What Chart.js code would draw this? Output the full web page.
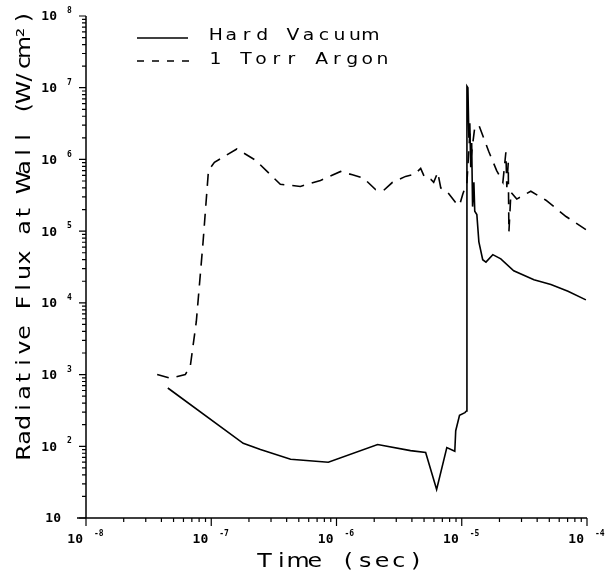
<!DOCTYPE html>
<html>
<head>
<meta charset="utf-8">
<script src="https://cdn.jsdelivr.net/npm/chart.js@4"></script>
<style>
    html, body { margin: 0; padding: 0; background: #fff; }
    #wrap { width: 605px; height: 576px; }
</style>
</head>
<body>
<div id="wrap"><canvas id="grafico" width="605" height="576"></canvas></div>
<script>
// Hard vacuum (solid line)
const vacuumTime = [4.5e-8, 1.8e-7, 2.47e-7, 4.3e-7, 8.6e-7, 2.13e-6, 3.9e-6, 5.15e-6, 6.3e-6, 7.6e-6, 8.8e-6, 8.95e-6, 9.6e-6, 1.06e-5, 1.09e-5,
    1.1e-5, 1.12e-5, 1.14e-5, 1.16e-5, 1.18e-5, 1.2e-5, 1.22e-5, 1.25e-5, 1.27e-5, 1.32e-5, 1.37e-5, 1.47e-5, 1.56e-5, 1.77e-5, 2.05e-5,
    2.6e-5, 3.77e-5, 5.15e-5, 7.05e-5, 9.8e-5];
const vacuumFlux = [650, 110, 90, 66, 60, 106, 87, 82, 25, 96, 85, 165, 270, 295, 310,
    1.05e7, 1.0e7, 2.0e6, 3.2e6, 7.8e5, 1.7e6, 2.2e5, 4.8e5, 1.9e5, 1.7e5, 7.1e4, 4.0e4, 3.7e4, 4.7e4, 4.1e4,
    2.8e4, 2.1e4, 1.8e4, 1.45e4, 1.1e4];

// 1 Torr argon (dashed line)
const argonTime = [3.7e-8, 4.7e-8, 6.2e-8, 6.8e-8, 7.6e-8, 8.6e-8, 9.5e-8, 1.06e-7, 1.6e-7, 2.25e-7, 3.56e-7, 5.15e-7, 7.45e-7, 1.08e-6,
    1.34e-6, 1.64e-6, 2.05e-6, 2.38e-6, 2.8e-6, 3.56e-6, 4.2e-6, 4.7e-6, 5.06e-6, 5.65e-6, 5.97e-6, 6.43e-6, 6.8e-6, 7.7e-6, 8.95e-6,
    9.6e-6, 1.02e-5, 1.1e-5, 1.16e-5, 1.2e-5, 1.27e-5, 1.37e-5, 1.64e-5, 1.9e-5, 2.13e-5, 2.25e-5, 2.29e-5, 2.35e-5, 2.38e-5, 2.47e-5,
    2.75e-5, 3.56e-5, 4.7e-5, 6.8e-5, 9.8e-5];
const argonFlux = [1.0e3, 890, 1.0e3, 1.3e3, 5.5e3, 7.0e4, 7.0e5, 9.1e5, 1.4e6, 9.8e5, 4.5e5, 4.2e5, 5.1e5, 6.8e5,
    6.1e5, 5.5e5, 3.8e5, 3.7e5, 4.8e5, 5.8e5, 6.2e5, 7.5e5, 5.6e5, 5.3e5, 4.8e5, 6.6e5, 4.0e5, 3.5e5, 2.5e5,
    2.3e5, 3.3e5, 4.8e5, 2.3e6, 1.25e6, 2.8e6, 3.0e6, 1.3e6, 7.0e5, 4.8e5, 1.26e6, 4.1e5, 9.0e5, 9.8e4, 3.5e5,
    2.8e5, 3.6e5, 2.7e5, 1.6e5, 1.05e5];

const xDecades = [-8, -7, -6, -5, -4];
const yDecades = [1, 2, 3, 4, 5, 6, 7, 8];
const legendLabels = ['Hard Vacuum', '1 Torr Argon'];
const xTitle = 'Time (sec)';
const yTitle = 'Radiative Flux at Wall (W/cm²)';

const INK = '#000';
const FUENTE_TICK = '"DejaVu Sans Mono", monospace';
const FUENTE_TXT = '"DejaVu Sans", sans-serif';

function toPoints(xs, ys) {
    return xs.map((x, i) => ({ x, y: ys[i] }));
}

// fixed pitch + slightly widened glyphs, like the plotter lettering
function textoEspaciado(ctx, texto, x0, ancho, y) {
    const paso = ancho / texto.length;
    ctx.textAlign = 'center';
    [...texto].forEach((ch, i) => {
        ctx.save();
        ctx.translate(x0 + (i + 0.5) * paso, y);
        ctx.scale(1.25, 1);
        ctx.fillText(ch, 0, 0);
        ctx.restore();
    });
}

const ejesPlugin = {
    id: 'ejesPlotter',
    afterDraw(chart) {
        const { ctx, chartArea: { left, right, top, bottom }, scales: { x, y } } = chart;
        ctx.save();
        ctx.strokeStyle = INK;
        ctx.fillStyle = INK;
        ctx.lineWidth = 1.5;

        // axis lines
        ctx.beginPath();
        ctx.moveTo(left, top);
        ctx.lineTo(left, bottom);
        ctx.moveTo(left - 9, bottom);
        ctx.lineTo(right, bottom);
        ctx.stroke();

        // ticks
        ctx.lineWidth = 1.2;
        ctx.beginPath();
        xDecades.forEach((e) => {
            for (let m = 1; m <= 9; m++) {
                const v = m * Math.pow(10, e);
                if (v > x.max * 1.0001) break;
                const px = x.getPixelForValue(v);
                const len = m === 1 ? 8 : 4;
                ctx.moveTo(px, bottom);
                ctx.lineTo(px, bottom + len);
            }
        });
        yDecades.forEach((e) => {
            for (let m = 1; m <= 9; m++) {
                const v = m * Math.pow(10, e);
                if (v > y.max * 1.0001) break;
                const py = y.getPixelForValue(v);
                const len = m === 1 ? 7 : 4;
                ctx.moveTo(left, py);
                ctx.lineTo(left - len, py);
            }
        });
        ctx.stroke();

        // tick labels
        ctx.textBaseline = 'middle';
        yDecades.forEach((e) => {
            const py = y.getPixelForValue(Math.pow(10, e));
            ctx.font = `bold 13px ${FUENTE_TICK}`;
            ctx.textAlign = 'right';
            if (e === 1) {
                ctx.fillText('10', 61, py + 1);
                return;
            }
            ctx.fillText('10', 57, py + 1);
            ctx.font = `bold 8px ${FUENTE_TICK}`;
            ctx.textAlign = 'left';
            ctx.fillText(String(e), 67, py - 5);
        });
        xDecades.forEach((e) => {
            const px = x.getPixelForValue(Math.pow(10, e));
            ctx.font = `bold 13px ${FUENTE_TICK}`;
            ctx.textAlign = 'right';
            ctx.fillText('10', px - 3, 540);
            ctx.font = `bold 8px ${FUENTE_TICK}`;
            ctx.textAlign = 'left';
            ctx.fillText(String(e), px + 8, 534);
        });

        // axis titles
        ctx.font = `19px ${FUENTE_TXT}`;
        ctx.textBaseline = 'middle';
        textoEspaciado(ctx, xTitle, 256, 168, 562);
        ctx.save();
        ctx.translate(25, 0);
        ctx.rotate(-Math.PI / 2);
        textoEspaciado(ctx, yTitle, -460, 450, 0);
        ctx.restore();

        // legend
        ctx.lineWidth = 1.5;
        ctx.beginPath();
        ctx.moveTo(137, 38);
        ctx.lineTo(188, 38);
        ctx.stroke();
        ctx.setLineDash([7, 8]);
        ctx.beginPath();
        ctx.moveTo(137, 61);
        ctx.lineTo(190, 61);
        ctx.stroke();
        ctx.setLineDash([]);
        ctx.font = `15px ${FUENTE_TXT}`;
        textoEspaciado(ctx, legendLabels[0], 208, 170, 36);
        textoEspaciado(ctx, legendLabels[1], 208, 182, 60);

        ctx.restore();
    }
};

new Chart(document.getElementById('grafico'), {
    type: 'line',
    data: {
        datasets: [
            {
                label: legendLabels[0],
                data: toPoints(vacuumTime, vacuumFlux),
                borderColor: INK,
                borderWidth: 1.6,
                pointRadius: 0,
                tension: 0,
                fill: false
            },
            {
                label: legendLabels[1],
                data: toPoints(argonTime, argonFlux),
                borderColor: INK,
                borderWidth: 1.6,
                borderDash: [12, 8],
                pointRadius: 0,
                tension: 0,
                fill: false
            }
        ]
    },
    options: {
        responsive: false,
        animation: false,
        layout: { padding: { top: 16, right: 18, left: 0, bottom: 0 } },
        plugins: {
            legend: { display: false },
            tooltip: { enabled: false }
        },
        scales: {
            x: {
                type: 'logarithmic',
                min: 1e-8,
                max: 1e-4,
                grid: { display: false },
                border: { display: false },
                ticks: { display: false },
                afterFit(scale) { scale.height = 58; }
            },
            y: {
                type: 'logarithmic',
                min: 10,
                max: 1e8,
                grid: { display: false },
                border: { display: false },
                ticks: { display: false },
                afterFit(scale) { scale.width = 86; }
            }
        }
    },
    plugins: [ejesPlugin]
});
</script>
</body>
</html>
